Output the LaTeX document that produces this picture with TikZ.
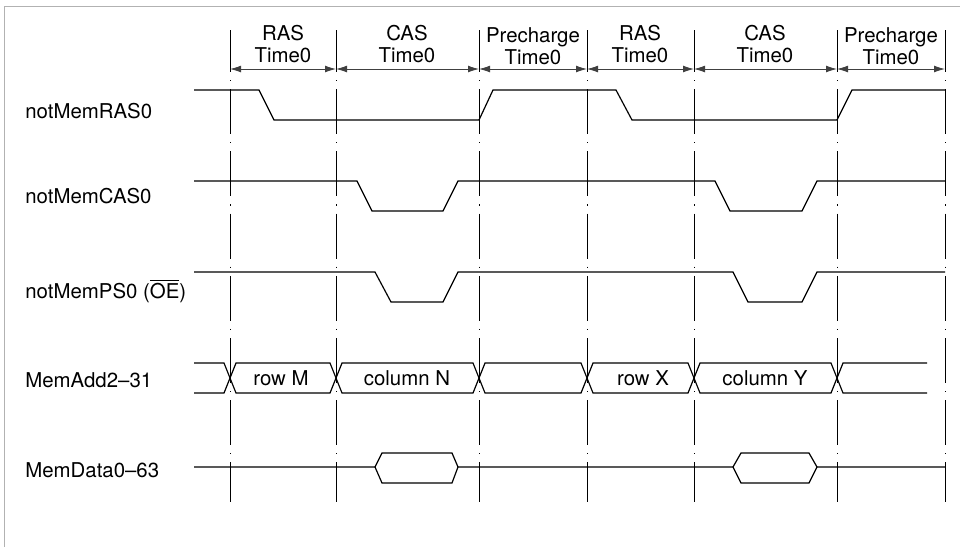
\documentclass[tikz,border=0pt]{standalone}
\usepackage{fontspec}
\setmainfont{TeX Gyre Heros}
\usetikzlibrary{arrows.meta, positioning}

\begin{document}
\begin{tikzpicture}[x=0.5pt, y=-0.5pt,
    every node/.style={font=\fontsize{10.2}{11}\selectfont, inner sep=1pt},
    sig/.style={line width=0.6pt},
    mark line/.style={line width=0.5pt, dash pattern=on 22.5pt off 4pt on 0.6pt off 4pt, dash phase=1.5pt},
    arr/.style={{Latex[length=5.5pt,width=3.4pt]}-{Latex[length=5.5pt,width=3.4pt]}, line width=0.4pt, black!75},
    lbl/.style={anchor=west}]
  \useasboundingbox (0,0) rectangle (960,547);
  % frame
  \draw[gray!60, line width=0.5pt] (4,547) -- (4,6) -- (960,6);
  % time marks
  \foreach \x [count=\i from 0] in {230,336,479,587,694,837,945} {
    \coordinate (top\i) at (\x,30);
    \coordinate (bot\i) at (\x,502);
    \coordinate (m\i) at (\x,69);
    \draw[mark line] (top\i) -- (bot\i);
  }
  \foreach \a/\b in {0/1,1/2,2/3,3/4,4/5,5/6}
    \draw[arr] (m\a) -- (m\b);

  % phase names
  \node[align=center] (ras1) at (283,44) {RAS\\Time0};
  \node[align=center] (cas1) at (407,44) {CAS\\Time0};
  \node[align=center] (pre1) at (533,46) {Precharge\\Time0};
  \node[align=center] (ras2) at (640,44) {RAS\\Time0};
  \node[align=center] (cas2) at (765,44) {CAS\\Time0};
  \node[align=center] (pre2) at (891,46) {Precharge\\Time0};

  % signal names
  \node[lbl] (nras) at (23,111) {notMemRAS0};
  \node[lbl] (ncas) at (23,196) {notMemCAS0};
  \node[lbl] (nps) at (23,291) {notMemPS0 ($\overline{\mbox{OE}}$)};
  \node[lbl] (nadd) at (23,380) {MemAdd2--31};
  \node[lbl] (ndata) at (23,470) {MemData0--63};

  % waveforms
  \draw[sig] (194,90) -- (259,90) -- (274,120) -- (479,120) -- (493,90) -- (616,90)
    -- (632,120) -- (837,120) -- (852,90) -- (945,90);
  \draw[sig] (194,181) -- (357,181) -- (372,211) -- (443,211) -- (458,181) -- (715,181)
    -- (730,211) -- (802,211) -- (817,181) -- (945,181);
  \draw[sig] (194,272) -- (375,272) -- (391,302) -- (443,302) -- (458,272) -- (733,272)
    -- (748,302) -- (802,302) -- (817,272) -- (945,272);

  % address bus
  \draw[sig] (194,363) -- (224,363) -- (230,378) -- (224,393) -- (194,393);
  \foreach \a/\b in {230/336,336/479,479/587,587/694,694/837}
    \draw[sig] (\a,378) -- (\a+6,363) -- (\b-6,363) -- (\b,378) -- (\b-6,393) -- (\a+6,393) -- cycle;
  \draw[sig] (927,363) -- (843,363) -- (837,378) -- (843,393) -- (927,393);
  \node (rowm) at (281,378) {row M};
  \node (coln) at (407,378) {column N};
  \node (rowx) at (643,378) {row X};
  \node (coly) at (765,378) {column Y};

  % data bus
  \draw[sig] (194,467) -- (375,467) -- (382,453) -- (452,453) -- (458,467) -- (733,467)
    -- (741,453) -- (809,453) -- (817,467) -- (945,467);
  \draw[sig] (375,467) -- (382,483) -- (452,483) -- (458,467);
  \draw[sig] (733,467) -- (741,483) -- (809,483) -- (817,467);
\end{tikzpicture}
\end{document}
